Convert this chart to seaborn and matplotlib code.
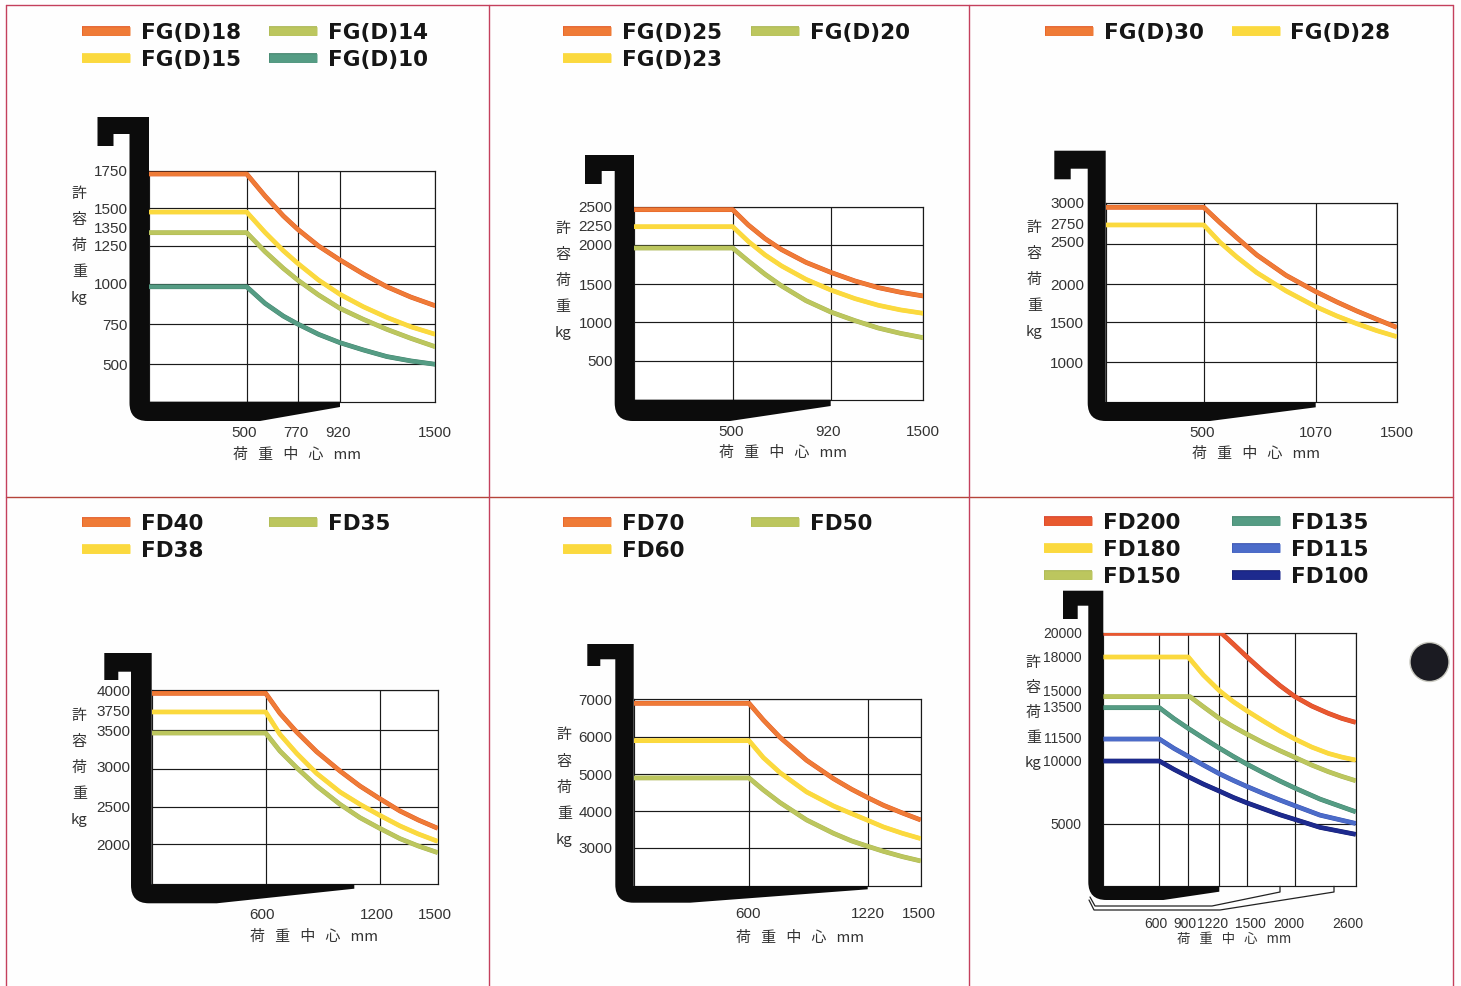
import numpy as np
import pandas as pd
import matplotlib
matplotlib.use("Agg")
import matplotlib.pyplot as plt
import matplotlib.patheffects as pe
from matplotlib.patches import PathPatch, Circle
from matplotlib.path import Path
from matplotlib.transforms import ScaledTranslation
import seaborn as sns

W, H = 1461, 986

# значения
p1_x = [0, 500, 597, 694, 770, 844, 920, 1062, 1205, 1351, 1500]
fg18 = [1728, 1728, 1582, 1449, 1360, 1248, 1156, 1064, 981, 917, 863]
fg15 = [1475, 1475, 1339, 1217, 1134, 1024, 934, 857, 791, 733, 686]
fg14 = [1337, 1337, 1211, 1101, 1024, 930, 847, 779, 717, 661, 609]
fg10 = [981, 981, 878, 799, 750, 686, 634, 589, 548, 521, 500]

p2_x = [0, 500, 567, 639, 710, 814, 920, 1072, 1218, 1358, 1500]
fg25 = [2461, 2461, 2259, 2079, 1937, 1777, 1651, 1542, 1456, 1394, 1345]
fg23 = [2237, 2237, 2043, 1870, 1731, 1563, 1425, 1310, 1222, 1160, 1115]
fg20 = [1958, 1958, 1794, 1626, 1478, 1283, 1133, 1018, 922, 853, 797]

p3_x = [0, 500, 583, 668, 770, 919, 1070, 1182, 1288, 1394, 1500]
fg30 = [2948, 2948, 2762, 2581, 2367, 2112, 1903, 1766, 1646, 1536, 1433]
fg28 = [2734, 2734, 2524, 2342, 2146, 1912, 1704, 1580, 1479, 1392, 1317]

p4_x = [0, 600, 675, 763, 868, 991, 1096, 1200, 1305, 1400, 1500]
fd40 = [3962, 3962, 3710, 3474, 3220, 2970, 2774, 2609, 2446, 2324, 2212]
fd38 = [3727, 3727, 3444, 3198, 2939, 2696, 2535, 2388, 2244, 2135, 2036]
fd35 = [3461, 3461, 3228, 3013, 2774, 2535, 2356, 2212, 2072, 1975, 1893]

p5_x = [0, 600, 675, 762, 901, 1041, 1136, 1220, 1303, 1403, 1500]
fd70 = [6894, 6894, 6451, 5991, 5375, 4883, 4595, 4370, 4163, 3955, 3766]
fd60 = [5902, 5902, 5446, 5044, 4523, 4145, 3937, 3757, 3577, 3406, 3262]
fd50 = [4901, 4901, 4577, 4235, 3766, 3406, 3199, 3055, 2920, 2779, 2664]

fd200_x = [0, 1244, 1363, 1500, 1672, 1845, 2000, 2165, 2330, 2462, 2600]
fd200 = [19950, 19950, 19106, 18106, 16923, 15818, 14948, 14226, 13658, 13271, 12962]
fd180_x = [0, 900, 1055, 1220, 1363, 1500, 1672, 1845, 2000, 2165, 2330, 2462, 2600]
fd180 = [18080, 18080, 16660, 15424, 14561, 13865, 13065, 12291, 11672, 11053, 10562, 10279, 10046]
fd150_x = [0, 917, 1055, 1220, 1363, 1500, 1672, 1845, 2000, 2165, 2330, 2462, 2600]
fd150 = [14950, 14950, 14174, 13271, 12626, 12059, 11388, 10769, 10253, 9656, 9126, 8755, 8410]
low_x = [0, 600, 752, 900, 1055, 1220, 1363, 1500, 1672, 1845, 2000, 2247, 2600]
fd135 = [14097, 14097, 13246, 12497, 11749, 10975, 10330, 9735, 9046, 8383, 7827, 6953, 5945]
fd115 = [11675, 11675, 10949, 10330, 9656, 8967, 8436, 7960, 7403, 6873, 6422, 5680, 5018]
fd100 = [9974, 9974, 9311, 8728, 8145, 7589, 7085, 6661, 6184, 5707, 5336, 4707, 4149]

ORANGE, YELLOW, OLIVE = "#ef7b37", "#fbd93e", "#bcc65e"
TEAL, BLUE, NAVY, RED = "#559c84", "#4c6cc9", "#1d2a8e", "#e8592f"
EDGES = {ORANGE: "#e2551f", YELLOW: "#fbd93e", OLIVE: "#a9b550", TEAL: "#3f8068",
         BLUE: "#3650b0", NAVY: "#141e70", RED: "#d63c28"}

panels = [
    dict(series=[("FG(D)18", p1_x, fg18, ORANGE), ("FG(D)15", p1_x, fg15, YELLOW),
                 ("FG(D)14", p1_x, fg14, OLIVE), ("FG(D)10", p1_x, fg10, TEAL)],
         x_vals=[0, 500, 770, 920, 1500], x_px=[149, 246.7, 297.7, 340, 435.3],
         y_vals=[250, 500, 750, 1000, 1250, 1500, 1750], y_px=[401.7, 364.3, 324, 283.7, 245.7, 208.3, 170.7],
         extra_y=[1350], nudge_y={1350: -3}, nudge_x={500: -3, 770: -2, 920: -2},
         x_pad=30, fork=(97.5, 129.5, 117, 134, 146, 113.5, 340, 407, 421, 260),
         leg=(82, 1.3, 23), ylab=(79.3, 246), xlab=(296.7, 455)),
    dict(series=[("FG(D)25", p2_x, fg25, ORANGE), ("FG(D)23", p2_x, fg23, YELLOW), ("FG(D)20", p2_x, fg20, OLIVE)],
         x_vals=[0, 500, 920, 1500], x_px=[634, 732.7, 830.7, 923.3],
         y_vals=[0, 500, 1000, 1500, 2000, 2500], y_px=[399.7, 360.7, 322, 284.3, 244.7, 206.7],
         extra_y=[2250], nudge_y={}, nudge_x={500: -2, 920: -3},
         x_pad=31, fork=(585, 614.7, 155, 171, 184, 601.7, 830.7, 406, 421, 730),
         leg=(563, 1.35, 23), ylab=(562.7, 281), xlab=(782.7, 453)),
    dict(series=[("FG(D)30", p3_x, fg30, ORANGE), ("FG(D)28", p3_x, fg28, YELLOW)],
         x_vals=[0, 500, 1070, 1500], x_px=[1105.7, 1203.7, 1315.7, 1396.7],
         y_vals=[500, 1000, 1500, 2000, 2500, 3000], y_px=[402, 362, 322, 284.3, 244.3, 203],
         extra_y=[2750], nudge_y={2500: -3}, nudge_x={500: -2},
         x_pad=29, fork=(1054.3, 1087.7, 150.7, 168.7, 179.3, 1070.7, 1315.7, 407.3, 421, 1210),
         leg=(1045, 1.3, 23), ylab=(1034.3, 280), xlab=(1256, 454)),
    dict(series=[("FD40", p4_x, fd40, ORANGE), ("FD38", p4_x, fd38, YELLOW), ("FD35", p4_x, fd35, OLIVE)],
         x_vals=[0, 600, 1200, 1500], x_px=[151.7, 265.7, 379.7, 437.7],
         y_vals=[1500, 2000, 2500, 3000, 3500, 4000], y_px=[884.3, 844, 807, 768.7, 730, 690.3],
         extra_y=[3750], nudge_y={3000: -2}, nudge_x={600: -4, 1200: -3, 1500: -3},
         x_pad=29, fork=(104.3, 131, 653, 671.7, 680, 118.3, 354.3, 888.7, 903.3, 216.7),
         leg=(82, 3.05, 514), ylab=(79.3, 768), xlab=(314, 937)),
    dict(series=[("FD70", p5_x, fd70, ORANGE), ("FD60", p5_x, fd60, YELLOW), ("FD50", p5_x, fd50, OLIVE)],
         x_vals=[0, 600, 1220, 1500], x_px=[633.7, 749, 867.7, 920.7],
         y_vals=[2000, 3000, 4000, 5000, 6000, 7000], y_px=[886, 848.3, 811.3, 774.3, 737, 699.3],
         extra_y=[], nudge_y={3000: -1}, nudge_x={600: -1, 1500: -2},
         x_pad=26, fork=(587.3, 615.3, 644, 659.3, 666, 600.3, 867.7, 889.3, 902.7, 690),
         leg=(563, 3.1, 514), ylab=(564.3, 787.7), xlab=(800, 937.7)),
    dict(series=[("FD200", fd200_x, fd200, RED), ("FD180", fd180_x, fd180, YELLOW), ("FD150", fd150_x, fd150, OLIVE),
                 ("FD135", low_x, fd135, TEAL), ("FD115", low_x, fd115, BLUE), ("FD100", low_x, fd100, NAVY)],
         x_vals=[0, 600, 900, 1220, 1500, 2000, 2600], x_px=[1103.3, 1159.3, 1188.3, 1219.3, 1246.7, 1295, 1355.7],
         y_vals=[0, 5000, 10000, 15000, 20000], y_px=[886.3, 823.7, 760.7, 696, 632.7],
         extra_y=[18000, 13500, 11500], nudge_y={18000: -2, 15000: -5, 13500: -9.4, 11500: -4},
         nudge_x={600: -3, 900: -3, 1220: -6.6, 1500: 3.3, 2000: -6, 2600: -7.7},
         x_pad=36, fork=(1063, 1088.3, 590.7, 605.7, 619, 1077.7, 1219.3, 891.7, 900, 1163.3),
         leg=(1044, 2.4, 513), ylab=(1033.3, 713), xlab=(1234, 939.3), small=True),
]

sns.set_theme(style="white")
NUM_FONT = "Liberation Sans"
CJK_FONT = ["Noto Sans CJK JP", "DejaVu Sans"]
plt.rcParams["font.family"] = ["DejaVu Sans"]

fig = plt.figure(figsize=(W / 100, H / 100), dpi=100, facecolor="#fefefe")


def px_scale(vals, px):
    vals, px = np.array(vals, float), np.array(px, float)
    sign = 1 if px[-1] > px[0] else -1
    return (lambda v: np.interp(v, vals, sign * px), lambda p: np.interp(p, sign * px, vals))


def shift(label, dx=0, dy=0):
    label.set_transform(label.get_transform() + ScaledTranslation(dx / 100, -dy / 100, fig.dpi_scale_trans))


# оверлей в пикселях для вилки и рамок
over = fig.add_axes([0, 0, 1, 1], zorder=5, facecolor="none")
over.set_xlim(0, W)
over.set_ylim(H, 0)
over.axis("off")

for p in panels:
    left, right = p["x_px"][0], p["x_px"][-1]
    bottom, top = p["y_px"][0], p["y_px"][-1]
    ax = fig.add_axes([left / W, 1 - bottom / H, (right - left) / W, (bottom - top) / H], facecolor="white")

    df = pd.concat([pd.DataFrame({"x": x, "y": y, "model": name}) for name, x, y, c in p["series"]])
    pal = {name: c for name, x, y, c in p["series"]}
    sns.lineplot(data=df, x="x", y="y", hue="model", palette=pal, hue_order=list(pal),
                 estimator=None, sort=False, lw=2.9, ax=ax, zorder=3)
    for line, (name, x, y, c) in zip(ax.get_lines(), p["series"]):
        line.set_solid_capstyle("butt")
        line.set_path_effects([pe.withStroke(linewidth=3.4, foreground=EDGES[c])])

    ax.set_xscale("function", functions=px_scale(p["x_vals"], p["x_px"]))
    ax.set_yscale("function", functions=px_scale(p["y_vals"], p["y_px"]))
    ax.set_xlim(p["x_vals"][0], p["x_vals"][-1])
    ax.set_ylim(p["y_vals"][0], p["y_vals"][-1])
    ax.set_xlabel("")
    ax.set_ylabel("")

    small = p.get("small", False)
    ax.set_xticks(p["x_vals"][1:], [str(v) for v in p["x_vals"][1:]])
    ax.set_yticks(p["y_vals"][1:], [str(v) for v in p["y_vals"][1:]])
    ax.set_yticks(p["extra_y"], [str(v) for v in p["extra_y"]], minor=True)
    ax.set_xticks([], minor=True)
    ax.grid(True, which="major", color="#1a1a1a", lw=0.85)
    ax.set_axisbelow(True)
    ax.tick_params(axis="both", which="both", length=0, colors="#333333", labelsize=10 if small else 11)
    ax.tick_params(axis="x", which="major", pad=(p["x_pad"] - 6) * 0.72 + 0.5)
    ax.tick_params(axis="y", which="both", pad=15.5)
    for s in ax.spines.values():
        s.set_visible(True)
        s.set_color("#1a1a1a")
        s.set_linewidth(0.85)
    for lab in ax.get_xticklabels() + ax.get_yticklabels() + ax.get_yticklabels(minor=True):
        lab.set_family(NUM_FONT)
    for lab, v in zip(ax.get_xticklabels(), p["x_vals"][1:]):
        if v in p["nudge_x"]:
            shift(lab, dx=p["nudge_x"][v])
    for lab, v in zip(ax.get_yticklabels(), p["y_vals"][1:]):
        if v in p["nudge_y"]:
            shift(lab, dy=p["nudge_y"][v])
    for lab, v in zip(ax.get_yticklabels(minor=True), p["extra_y"]):
        if v in p["nudge_y"]:
            shift(lab, dy=p["nudge_y"][v])

    # легенда в две колонки
    leg_x, col_gap, leg_y = p["leg"]
    leg = ax.legend(ncol=2, loc="upper left", bbox_to_anchor=(leg_x, leg_y), bbox_transform=over.transData,
                    frameon=False, borderpad=0, borderaxespad=0, handlelength=2.23, handletextpad=0.5,
                    columnspacing=col_gap, labelspacing=0.32,
                    prop=dict(family="DejaVu Sans", weight="bold", size=15.5))
    for h, (name, x, y, c) in zip(leg.get_lines(), p["series"]):
        h.set_linewidth(6.2)
        h.set_solid_capstyle("butt")
        h.set_path_effects([pe.withStroke(linewidth=7, foreground=EDGES[c])])
    for t in leg.get_texts():
        t.set_color("#161616")

    # вилка
    hl, sl, tp, iny, hb, inx, tipx, tipb, under, tap = p["fork"]
    verts = [(hl, tp), (left, tp), (left, bottom), (tipx, bottom), (tipx, tipb), (tap, under),
             (sl + 18, under), (sl, under), (sl, under - 18), (sl, iny), (inx, iny), (inx, hb), (hl, hb), (hl, tp)]
    codes = [Path.MOVETO] + [Path.LINETO] * 5 + [Path.LINETO, Path.CURVE3, Path.CURVE3] + [Path.LINETO] * 5
    over.add_patch(PathPatch(Path(verts, codes), fc="#0c0c0c", ec="none"))

    over.text(p["ylab"][0], p["ylab"][1], "許\n容\n荷\n重\nkg", family=CJK_FONT, size=10.8, color="#333333",
              ha="center", va="center", multialignment="center", linespacing=2.0 if small else 2.1)
    over.text(p["xlab"][0], p["xlab"][1], "荷   重   中   心   mm", family=CJK_FONT, size=9.6 if small else 10.8,
              color="#333333", ha="center", va="center")

# контуры других вил на последней панели
for pts in ([(1090, 897), (1095, 906), (1104, 906), (1212, 906), (1280, 892), (1280, 886.3)],
            [(1089, 900), (1094, 910), (1103, 910), (1220, 910), (1334, 892), (1334, 886.3)]):
    xs, ys = zip(*pts)
    over.plot(xs, ys, color="#222222", lw=0.9, solid_joinstyle="round")

# рамки
FRAME = "#c4405c"
over.plot([6, 1453], [5, 5], color=FRAME, lw=1.0)
over.plot([6, 1453], [497, 497], color="#b5443a", lw=1.0)
for fx in (6, 488.5, 969, 1453):
    over.plot([fx, fx], [5, H], color=FRAME, lw=1.0)

over.add_patch(Circle((1429.5, 662), 19.5, fc="#1b1b22", ec="#c9c9c0", lw=1.0))
over.set_xlim(0, W)
over.set_ylim(H, 0)

fig.savefig("out.png", dpi=100, facecolor=fig.get_facecolor())
